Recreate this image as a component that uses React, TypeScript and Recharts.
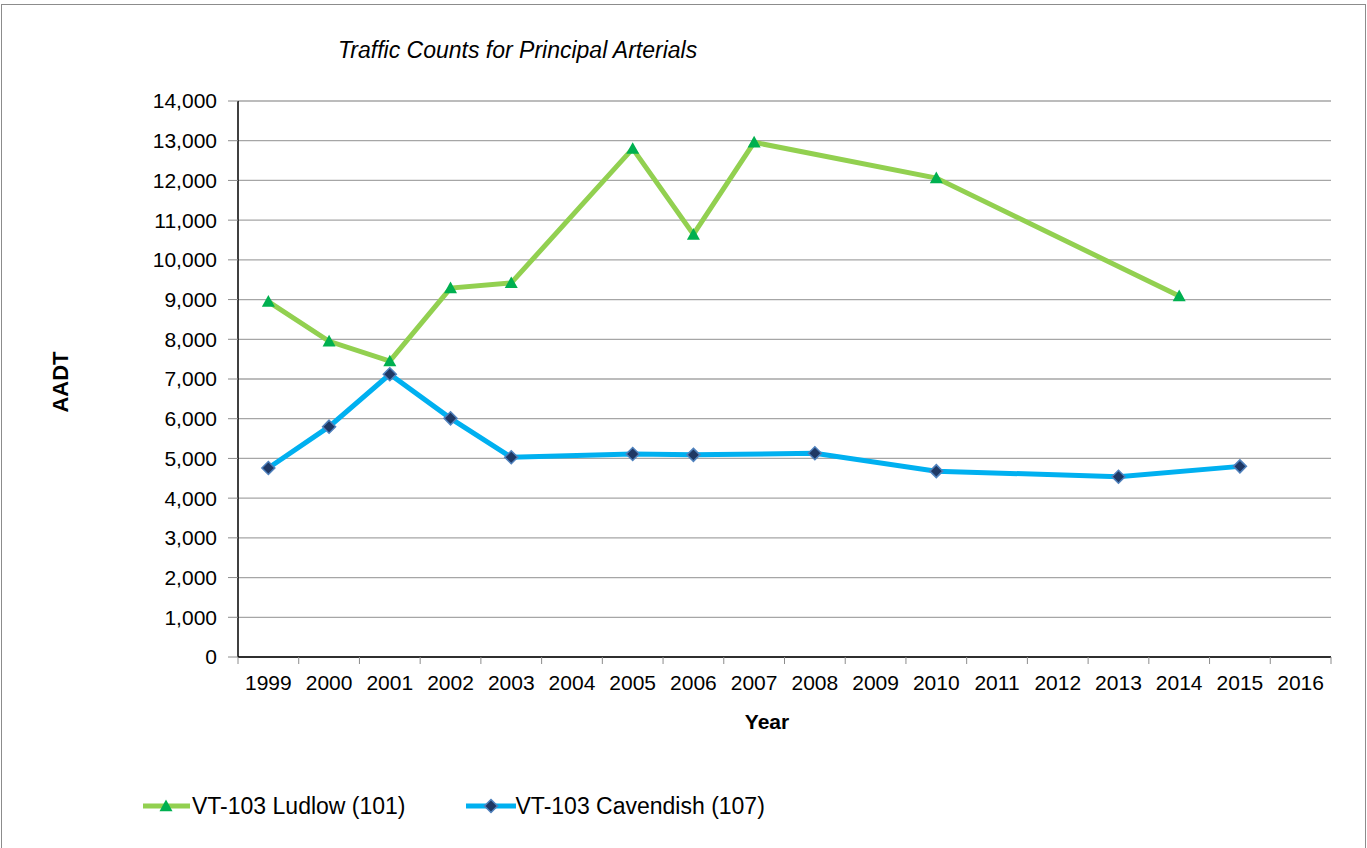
import React from "react";
import { CartesianGrid, Label, Legend, Line, LineChart, XAxis, YAxis } from "recharts";

const years = [
  "1999", "2000", "2001", "2002", "2003", "2004", "2005", "2006", "2007",
  "2008", "2009", "2010", "2011", "2012", "2013", "2014", "2015", "2016",
];

// VT-103 Ludlow (101)
const ludlow = [
  8950, 7950, 7450, 9290, 9420, null, 12800, 10640, 12960,
  null, null, 12060, null, null, null, 9090, null, null,
];

// VT-103 Cavendish (107)
const cavendish = [
  4760, 5800, 7120, 6010, 5030, null, 5110, 5090, null,
  5130, null, 4680, null, null, 4540, null, 4800, null,
];

const yTicks = [
  0, 1000, 2000, 3000, 4000, 5000, 6000, 7000, 8000, 9000, 10000, 11000, 12000, 13000, 14000,
];

const data = years.map((year, i) => ({
  year,
  ludlow: ludlow[i],
  cavendish: cavendish[i],
}));

const FONT = "'Liberation Sans', Arial, sans-serif";
const GREEN_LINE = "#92d050";
const GREEN_MARK = "#00b050";
const BLUE_LINE = "#00b0f0";
const BLUE_MARK = "#1f3864";
const BLUE_EDGE = "#4f81bd";
const X_TICK_SIZE = 7;
const X_TICK_MARGIN = 6;

const Triangle = ({ cx, cy }: any) => {
  if (cx == null || cy == null) return null;
  const s = 6.5;
  return (
    <path
      d={`M${cx},${cy - s} L${cx + s},${cy + s * 0.8} L${cx - s},${cy + s * 0.8} Z`}
      fill={GREEN_MARK}
    />
  );
};

const Diamond = ({ cx, cy }: any) => {
  if (cx == null || cy == null) return null;
  const s = 6.5;
  return (
    <path
      d={`M${cx},${cy - s} L${cx + s},${cy} L${cx},${cy + s} L${cx - s},${cy} Z`}
      fill={BLUE_MARK}
      stroke={BLUE_EDGE}
      strokeWidth={1.5}
    />
  );
};

// year labels sit between tick marks, like Excel's "between categories"
const YearTick = (props: any) => {
  const { x, y, payload, index, visibleTicksCount } = props;
  const half = payload && payload.offset ? payload.offset : 0;
  const top = y - X_TICK_MARGIN - X_TICK_SIZE;
  const bottom = y - X_TICK_MARGIN;
  return (
    <g>
      <line x1={x - half} x2={x - half} y1={top} y2={bottom} stroke="#8c8c8c" />
      {index === visibleTicksCount - 1 && (
        <line x1={x + half} x2={x + half} y1={top} y2={bottom} stroke="#8c8c8c" />
      )}
      <text x={x} y={y + 20} textAnchor="middle" fill="#000" fontSize={21} fontFamily={FONT}>
        {payload.value}
      </text>
    </g>
  );
};

const renderLegend = () => (
  <div
    style={{
      height: 60,
      display: "flex",
      alignItems: "center",
      paddingLeft: 143,
      fontFamily: FONT,
      fontSize: 23,
      color: "#000",
    }}
  >
    <svg width={47} height={20}>
      <line x1={0} x2={47} y1={10} y2={10} stroke={GREEN_LINE} strokeWidth={5} strokeLinecap="round" />
      <Triangle cx={23} cy={10} />
    </svg>
    <span style={{ marginLeft: 2, marginRight: 60 }}>VT-103 Ludlow (101)</span>
    <svg width={50} height={20}>
      <line x1={0} x2={50} y1={10} y2={10} stroke={BLUE_LINE} strokeWidth={5} strokeLinecap="round" />
      <Diamond cx={25} cy={10} />
    </svg>
    <span style={{ marginLeft: 0 }}>VT-103 Cavendish (107)</span>
  </div>
);

export default function App() {
  return (
    <div style={{ position: "absolute", left: 0, top: 0, width: 1367, height: 848, background: "#fff" }}>
      <div
        style={{
          position: "absolute",
          left: 1,
          top: 4,
          width: 1365,
          height: 860,
          border: "1px solid #8c8c8c",
          boxSizing: "border-box",
        }}
      />
      <div
        style={{
          position: "absolute",
          left: 338,
          top: 39,
          fontFamily: FONT,
          fontSize: 23,
          fontStyle: "italic",
          lineHeight: "23px",
          whiteSpace: "nowrap",
          color: "#000",
        }}
      >
        Traffic Counts for Principal Arterials
      </div>
      <LineChart
        width={1367}
        height={848}
        data={data}
        margin={{ top: 101, right: 36, bottom: 12, left: 0 }}
        style={{ position: "absolute", left: 0, top: 0 }}
      >
        <CartesianGrid vertical={false} stroke="#a6a6a6" strokeWidth={1.3} />
        <XAxis
          dataKey="year"
          scale="band"
          interval={0}
          height={119}
          tickLine={false}
          tickSize={X_TICK_SIZE}
          tickMargin={X_TICK_MARGIN}
          axisLine={{ stroke: "#000", strokeWidth: 1.5 }}
          tick={<YearTick />}
        >
          <Label
            content={() => (
              <text x={767} y={729} textAnchor="middle" fontSize={21} fontWeight="bold" fontFamily={FONT} fill="#000">
                Year
              </text>
            )}
          />
        </XAxis>
        <YAxis
          width={238}
          domain={[0, 14000]}
          ticks={yTicks}
          interval={0}
          tickSize={10}
          tickMargin={11}
          tickLine={{ stroke: "#8c8c8c" }}
          axisLine={{ stroke: "#000", strokeWidth: 1.5 }}
          tick={{ fill: "#000", fontSize: 21, fontFamily: FONT }}
          tickFormatter={(v: number) => v.toLocaleString("en-US")}
        >
          <Label
            content={({ viewBox }: any) => {
              const cy = viewBox.y + viewBox.height / 2 + 3;
              return (
                <text
                  x={68}
                  y={cy}
                  transform={`rotate(-90, 68, ${cy})`}
                  textAnchor="middle"
                  fontSize={22}
                  fontWeight="bold"
                  fontFamily={FONT}
                  fill="#000"
                >
                  AADT
                </text>
              );
            }}
          />
        </YAxis>
        <YAxis
          yAxisId="frame"
          orientation="right"
          width={0}
          domain={[0, 14000]}
          tick={false}
          tickLine={false}
          axisLine={{ stroke: "#8c8c8c", strokeWidth: 1.5 }}
        />
        <Legend verticalAlign="bottom" align="left" height={60} content={renderLegend} />
        <Line
          dataKey="ludlow"
          stroke={GREEN_LINE}
          strokeWidth={5}
          connectNulls
          dot={<Triangle />}
          activeDot={false}
          isAnimationActive={false}
        />
        <Line
          dataKey="cavendish"
          stroke={BLUE_LINE}
          strokeWidth={5}
          connectNulls
          dot={<Diamond />}
          activeDot={false}
          isAnimationActive={false}
        />
      </LineChart>
    </div>
  );
}
